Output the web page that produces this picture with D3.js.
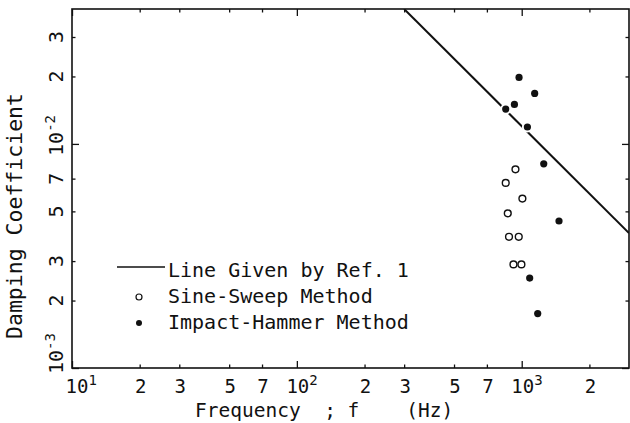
<!DOCTYPE html>
<html lang="en">

<head>
    <meta charset="UTF-8">
    <title>Damping Coefficient vs Frequency</title>
    <style>
        * {
            margin: 0;
            padding: 0;
        }

        html,
        body {
            overflow: hidden;
            background: #fff;
        }

        text {
            font-family: "DejaVu Sans Mono", monospace;
            fill: #111;
        }
    </style>
</head>

<body>
    <div id="chart"></div>
    <script src="https://cdn.jsdelivr.net/npm/d3@7"></script>
    <script>
        // values
        const refFreq = [300, 3000]
        const refDamp = [0.04, 0.004]

        const sineFreq = [938, 849, 1007, 867, 878, 970, 919, 997]
        const sineDamp = [0.0077, 0.0067, 0.0057, 0.0049, 0.00385, 0.00385, 0.0029, 0.0029]

        const hammerFreq = [973, 1142, 928, 849, 1060, 1253, 1465, 1085, 1178]
        const hammerDamp = [0.0198, 0.0168, 0.0150, 0.0143, 0.0119, 0.00815, 0.00453, 0.00252, 0.00175]

        const freqTicks = [10, 20, 30, 50, 70, 100, 200, 300, 500, 700, 1000, 2000]
        const freqTickLabels = ['10^1', '2', '3', '5', '7', '10^2', '2', '3', '5', '7', '10^3', '2']
        const dampTicks = [0.001, 0.002, 0.003, 0.005, 0.007, 0.01, 0.02, 0.03]
        const dampTickLabels = ['10^-3', '2', '3', '5', '7', '10^-2', '2', '3']

        const legendLabels = ['Line Given by Ref. 1', 'Sine-Sweep Method', 'Impact-Hammer Method']

        function drawChart() {
            const width = 630
            const height = 423
            const svg = d3.select('#chart')
                .append('svg')
                .attr('width', width)
                .attr('height', height)

            const left = 72, right = 629, top = 9, bottom = 368
            const x = d3.scaleLog().domain([10, 3000]).range([left, right])
            const y = d3.scaleLog().domain([0.001, 0.04]).range([bottom, top])

            const isDecade = v => Math.abs(Math.log10(v) - Math.round(Math.log10(v))) < 1e-9
            const tickLen = v => isDecade(v) ? 7 : 3.5

            // ticks on all four sides, pointing inward
            const axes = [
                { ax: d3.axisBottom(x).tickValues(freqTicks), t: `translate(0,${bottom})`, dir: 'y', sign: -1 },
                { ax: d3.axisTop(x).tickValues(freqTicks), t: `translate(0,${top})`, dir: 'y', sign: 1 },
                { ax: d3.axisLeft(y).tickValues(dampTicks), t: `translate(${left},0)`, dir: 'x', sign: 1 },
                { ax: d3.axisRight(y).tickValues(dampTicks), t: `translate(${right},0)`, dir: 'x', sign: -1 }
            ]
            axes.forEach(a => {
                const g = svg.append('g').attr('transform', a.t).call(a.ax.tickFormat(''))
                g.select('.domain').remove()
                g.selectAll('.tick line')
                    .attr(a.dir + '2', d => a.sign * tickLen(d))
                    .attr('stroke', '#111')
                    .attr('stroke-width', 1.3)
                g.selectAll('.tick text').remove()
            })

            // frame
            svg.append('rect')
                .attr('x', left)
                .attr('y', top)
                .attr('width', right - left)
                .attr('height', bottom - top)
                .attr('fill', 'none')
                .attr('stroke', '#111')
                .attr('stroke-width', 1.6)

            const fs = 20
            const tfs = 19

            function writeLabel(sel, str, size) {
                const parts = str.split('^')
                if (parts.length === 1) {
                    sel.attr('text-anchor', 'middle').text(str)
                    return
                }
                sel.attr('text-anchor', 'start')
                    .attr('x', (+sel.attr('x') || 0) - 0.602 * size)
                sel.append('tspan').text(parts[0])
                sel.append('tspan')
                    .attr('dy', -8)
                    .attr('font-size', 14)
                    .text(parts[1])
            }

            // x tick labels
            freqTicks.forEach((v, i) => {
                const t = svg.append('text')
                    .attr('x', x(v) + (i === 0 ? 5 : 1))
                    .attr('y', 393)
                    .attr('font-size', tfs)
                writeLabel(t, freqTickLabels[i], tfs)
            })

            // y tick labels, rotated
            dampTicks.forEach((v, i) => {
                const t = svg.append('text')
                    .attr('transform', `translate(63,${y(v)}) rotate(-90)`)
                    .attr('x', i === 0 ? 6 : 0)
                    .attr('y', 0)
                    .attr('font-size', fs)
                writeLabel(t, dampTickLabels[i], fs)
            })

            // axis titles
            svg.append('text')
                .attr('x', 195)
                .attr('y', 417)
                .attr('font-size', 19.5)
                .attr('xml:space', 'preserve')
                .style('white-space', 'pre')
                .text('Frequency  ; f    (Hz)')

            svg.append('text')
                .attr('transform', 'translate(22,216) rotate(-90)')
                .attr('text-anchor', 'middle')
                .attr('font-size', 21.5)
                .text('Damping Coefficient')

            // plot area clip for the reference line
            svg.append('clipPath').attr('id', 'plot')
                .append('rect')
                .attr('x', left).attr('y', top)
                .attr('width', right - left).attr('height', bottom - top)

            const line = d3.line()
                .x(i => x(refFreq[i]))
                .y(i => y(refDamp[i]))

            svg.append('path')
                .attr('clip-path', 'url(#plot)')
                .attr('d', line(d3.range(refFreq.length)))
                .attr('fill', 'none')
                .attr('stroke', '#111')
                .attr('stroke-width', 2)

            // impact-hammer: white halo then dot (leaves gaps in the line)
            const hammer = d3.range(hammerFreq.length)
            svg.selectAll('.halo')
                .data(hammer)
                .join('circle')
                .attr('class', 'halo')
                .attr('cx', i => x(hammerFreq[i]))
                .attr('cy', i => y(hammerDamp[i]))
                .attr('r', 5.5)
                .attr('fill', '#fff')
            svg.selectAll('.hammer')
                .data(hammer)
                .join('circle')
                .attr('class', 'hammer')
                .attr('cx', i => x(hammerFreq[i]))
                .attr('cy', i => y(hammerDamp[i]))
                .attr('r', 3.6)
                .attr('fill', '#111')

            svg.selectAll('.sine')
                .data(d3.range(sineFreq.length))
                .join('circle')
                .attr('class', 'sine')
                .attr('cx', i => x(sineFreq[i]))
                .attr('cy', i => y(sineDamp[i]))
                .attr('r', 3.4)
                .attr('fill', '#fff')
                .attr('stroke', '#111')
                .attr('stroke-width', 1.4)

            // legend
            const legX = 168, legY = 277, legStep = 26
            svg.append('line')
                .attr('x1', 117).attr('x2', 165)
                .attr('y1', 267).attr('y2', 267)
                .attr('stroke', '#111')
                .attr('stroke-width', 1.6)
            svg.append('circle')
                .attr('cx', 139).attr('cy', legY + legStep - 6)
                .attr('r', 3)
                .attr('fill', '#fff')
                .attr('stroke', '#111')
                .attr('stroke-width', 1.2)
            svg.append('circle')
                .attr('cx', 139).attr('cy', legY + 2 * legStep - 6)
                .attr('r', 3)
                .attr('fill', '#111')
            legendLabels.forEach((s, i) => {
                svg.append('text')
                    .attr('x', legX)
                    .attr('y', legY + i * legStep)
                    .attr('font-size', fs)
                    .text(s)
            })
        }

        drawChart()
    </script>
</body>

</html>
